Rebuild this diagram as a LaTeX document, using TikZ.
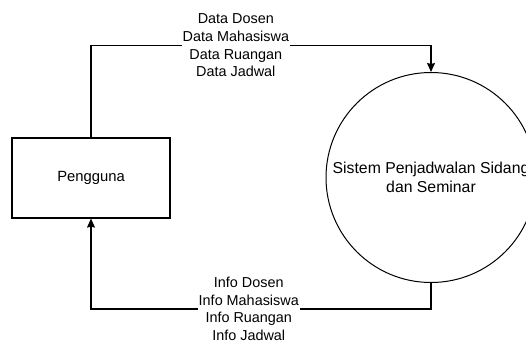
\documentclass[tikz,border=0pt]{standalone}
\usepackage{fontspec}
\setmainfont{Liberation Sans}
\usetikzlibrary{arrows.meta}
\begin{document}
\begin{tikzpicture}[x=1pt, y=-1pt, line width=1.2pt,
        font=\fontsize{14.4}{17.6}\selectfont,
        entity/.style={draw, rectangle, minimum width=158pt, minimum height=80pt, inner sep=0pt,
            font=\fontsize{14.8}{17.6}\selectfont},
        process/.style={draw, circle, minimum size=210pt, inner sep=0pt, align=center, line width=1pt,
            font=\fontsize{15.8}{19.5}\selectfont},
        flow/.style={-{Stealth[length=9pt, width=8pt, inset=1pt]}},
        flowlabel/.style={fill=white, align=center, inner sep=1pt}]
            \useasboundingbox (0, 0) rectangle (526, 342);

            \node[entity] (pengguna) at (91, 178) {Pengguna};
            \node[process] (sistem) at (431, 177.5) {Sistem Penjadwalan Sidang\\dan Seminar};

            \draw[flow] (pengguna.north) -- ++(0, -92) -| node[flowlabel, pos=0.213] {Data Dosen\\Data Mahasiswa\\Data Ruangan\\Data Jadwal} (sistem.north);
            \draw[flow] (sistem.south) -- ++(0, 26) -| node[flowlabel, pos=0.268] {Info Dosen\\Info Mahasiswa\\Info Ruangan\\Info Jadwal} (pengguna.south);
        \end{tikzpicture}
\end{document}
